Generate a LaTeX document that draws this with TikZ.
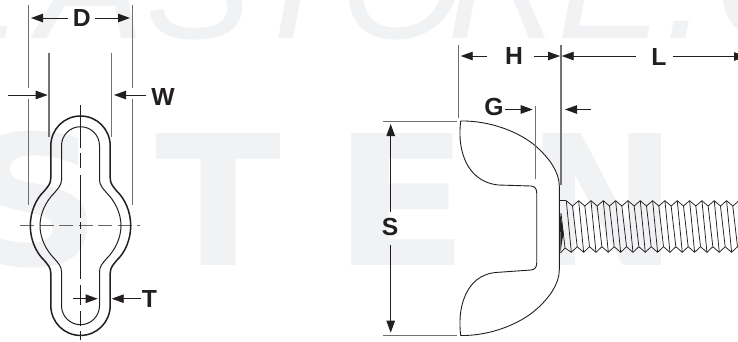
\documentclass[tikz,border=0pt]{standalone}
\usepackage{fontspec}
\setmainfont{Liberation Sans}
\newfontfamily\wmheavy{DejaVu Sans}
\usetikzlibrary{arrows.meta}
\definecolor{ink}{HTML}{231F20}
\definecolor{wm}{HTML}{F1F2F4}
\definecolor{extgrey}{HTML}{6E6E6E}
\tikzset{
  x=1pt,y=-1pt,
  label/.style={inner sep=0pt,text=ink,font=\fontsize{24.7}{26}\selectfont\bfseries},
  wmbig/.style={inner sep=0pt,anchor=base west,text=wm,font=\fontsize{181}{181}\selectfont\wmheavy\bfseries},
  wmthin/.style={inner sep=0pt,anchor=base west,text=wm,font=\fontsize{160}{160}\selectfont\itshape},
  dimarrow/.style={draw=ink,line width=0.9pt,-{Triangle[length=12pt,width=8.5pt]}},
  extline/.style={draw=extgrey,line width=0.9pt},
  extgreyline/.style={draw=black!55,line width=1.1pt},
  centreline/.style={draw=ink,line width=0.8pt},
  dashline/.style={draw=black!60,line width=1.1pt,dash pattern=on 14pt off 5.5pt},
  outerloop/.style={draw=ink,line width=1.5pt},
  innerloop/.style={draw=ink,line width=1pt},
  nutline/.style={draw=ink,line width=0.9pt},
  threadline/.style={draw=ink,line width=0.75pt,line join=round}
}
\begin{document}
\begin{tikzpicture}
\useasboundingbox (0,0) rectangle (738,341);
\clip (0,0) rectangle (738,341);
\fill[white] (0,0) rectangle (738,341);
% watermark, large letters
\node[wmbig,xscale=1.05] (wmS) at (-36,265.5) {S};
\node[wmbig,xscale=1.02] (wmT) at (155,265.5) {T};
\node[wmbig,xscale=1.1] (wmE) at (333,265.5) {E};
\node[wmbig,xscale=1] (wmN) at (526,265.5) {N};
\node[wmbig,xscale=1.1] (wmE2) at (721,265.5) {E};
% watermark, thin letters
\node[wmthin] (wa) at (-85,38.5) {E};
\node[wmthin] (wb) at (38,38.5) {A};
\node[wmthin] (wc) at (145,38.5) {S};
\node[wmthin] (wd) at (245,38.5) {T};
\node[wmthin] (we) at (340,38.5) {O};
\node[wmthin] (wf) at (447,38.5) {R};
\node[wmthin] (wg) at (557,38.5) {E};
\node[wmthin] (wh) at (664,38.5) {.};
\node[wmthin] (wi) at (714,38.5) {C};
% left view: centre lines
\draw[dashline] (20,225.7) -- (140,225.7);
\foreach \a/\b in {105/148,153/168,175/218,222/229,234/279,285/305,311/326,331/340}
  \draw[centreline] (80.3,\a) -- (80.3,\b);
% left view: loops
\begin{scope}[shift={(80.5,225.7)}]
\draw[outerloop] (0,-109.7) .. controls (16.6,-109.7) and (29.7,-96.3) .. (29.7,-79.7) -- (29.7,-47.7)
  .. controls (29.7,-41.7) and (32.7,-39.2) .. (36.2,-34.7)
  .. controls (44.7,-26.7) and (50.2,-13.7) .. (50.2,0)
  .. controls (50.2,13.7) and (44.7,26.7) .. (36.2,34.7)
  .. controls (32.7,39.2) and (29.7,41.7) .. (29.7,47.7) -- (29.7,79.7)
  .. controls (29.7,96.3) and (16.6,109.7) .. (0,109.7)
  .. controls (-16.6,109.7) and (-29.7,96.3) .. (-29.7,79.7) -- (-29.7,47.7)
  .. controls (-29.7,41.7) and (-32.7,39.2) .. (-36.2,34.7)
  .. controls (-44.7,26.7) and (-50.2,13.7) .. (-50.2,0)
  .. controls (-50.2,-13.7) and (-44.7,-26.7) .. (-36.2,-34.7)
  .. controls (-32.7,-39.2) and (-29.7,-41.7) .. (-29.7,-47.7) -- (-29.7,-79.7)
  .. controls (-29.7,-96.3) and (-16.6,-109.7) .. (0,-109.7) -- cycle;
\draw[innerloop] (0,-99) .. controls (10.5,-99) and (19,-90.5) .. (19,-80) -- (19,-46)
  .. controls (19,-41) and (22,-37.5) .. (26,-33)
  .. controls (34,-25) and (40.5,-13) .. (40.5,0)
  .. controls (40.5,13) and (34,25) .. (26,33)
  .. controls (22,37.5) and (19,41) .. (19,46) -- (19,80)
  .. controls (19,90.5) and (10.5,99) .. (0,99)
  .. controls (-10.5,99) and (-19,90.5) .. (-19,80) -- (-19,46)
  .. controls (-19,41) and (-22,37.5) .. (-26,33)
  .. controls (-34,25) and (-40.5,13) .. (-40.5,0)
  .. controls (-40.5,-13) and (-34,-25) .. (-26,-33)
  .. controls (-22,-37.5) and (-19,-41) .. (-19,-46) -- (-19,-80)
  .. controls (-19,-90.5) and (-10.5,-99) .. (0,-99) -- cycle;
\end{scope}
% left view: extension lines
\draw[extline] (28,5) -- (28,87.5) (28,99) -- (28,205);
\draw[extline] (132.7,5) -- (132.7,87.5) (132.7,99) -- (132.7,205);
\draw[extgreyline] (49,52.7) -- (49,136.7);
\draw[extgreyline] (111.7,52.7) -- (111.7,136.7);
% labels
\node[label] (D) at (81.7,18) {D};
\node[label] (W) at (163,96.5) {W};
\node[label] (T) at (149.5,299) {T};
\node[label] (H) at (514,56) {H};
\node[label] (G) at (494,107) {G};
\node[label] (L) at (659,56.5) {L};
\node[label] (S) at (390,227) {S};
% left view: dimension arrows
\coordinate (dL) at (31,18); \coordinate (dR) at (130,18);
\draw[dimarrow] (D.west)+(-5,0) -- (dL);
\draw[dimarrow] (D.east)+(4.5,0) -- (dR);
\coordinate (wA) at (8,95); \coordinate (wB) at (47.7,95); \coordinate (wC) at (114,95);
\draw[dimarrow] (wA) -- (wB);
\draw[dimarrow] (W.west)+(-5,-1.5) -- (wC);
\coordinate (tA) at (73,298.7); \coordinate (tB) at (97.7,298.7); \coordinate (tC) at (111.7,298.7);
\draw[dimarrow] (tA) -- (tB);
\draw[dimarrow] (T.west)+(-1,-0.3) -- (tC);
% bolt
\draw[threadline] (560,200.7) -- (566.3,200.7);
\draw[threadline] (560.5,253) -- (565,248) -- (571.3,252.3);
\draw[threadline] (561,213) -- (565,248);
\foreach \k in {0,...,14} {
  \pgfmathsetmacro{\p}{566.3+12.33*\k}
  \draw[threadline] (\p,200.7) -- (\p+6.2,206) -- (\p+12.33,200.7);
  \draw[threadline] (\p+5,252.3) -- (\p+10.9,246.7) -- (\p+17.33,252.3);
  \draw[threadline] (\p,200.7) -- (\p+5,252.3);
  \draw[threadline] (\p+6.2,206) -- (\p+10.9,246.7);
}
\fill[ink] (560,213) -- (563.5,233) -- (560.5,252) -- cycle;
% wing nut
\draw[nutline,fill=white,line join=round] (460.7,121) .. controls (490,120.5) and (520,132) .. (536.7,147)
  .. controls (549,158) and (559.3,172) .. (559.3,186) -- (559.3,270)
  .. controls (559.3,284) and (549,298) .. (536.7,309)
  .. controls (520,324) and (490,336) .. (460.7,335.5)
  .. controls (459.5,325) and (459,310) .. (465,296)
  .. controls (470,284) and (480,273) .. (498.3,272.3)
  -- (531,270) .. controls (535,269.5) and (536.7,267) .. (536.7,263)
  -- (536.7,193) .. controls (536.7,188.5) and (535,186.5) .. (531,186)
  -- (498.3,185) .. controls (480,183) and (470,172) .. (465,160)
  .. controls (459,146) and (459.5,131) .. (460.7,121) -- cycle;
% right view: extension lines
\draw[extline] (458.3,45) -- (458.3,118);
\draw[extgreyline] (561,45) -- (561,185);
\draw[extgreyline] (535.7,106) -- (535.7,179);
\draw[extline] (383.3,121.7) -- (456.7,121.7);
\draw[extline] (383.3,335.7) -- (456.7,335.7);
% right view: dimension arrows
\coordinate (hL) at (460.7,56); \coordinate (hR) at (560,56); \coordinate (hS) at (487,56); \coordinate (hE) at (534,56);
\draw[dimarrow] (hS) -- (hL);
\draw[dimarrow] (hE) -- (hR);
\coordinate (lL) at (561.7,56); \coordinate (lS) at (635.7,56);
\draw[dimarrow] (lS) -- (lL);
\coordinate (lR) at (746,56.5);
\draw[dimarrow] (L.east)+(6,0) -- (lR);
\coordinate (gB) at (532.7,109.5); \coordinate (gS) at (591,109.5); \coordinate (gC) at (565,109.5);
\draw[dimarrow] (G.east)+(1,2.5) -- (gB);
\draw[dimarrow] (gS) -- (gC);
\coordinate (sT) at (390.7,124); \coordinate (sB) at (390.7,332.7);
\draw[dimarrow] (S.north)+(0.7,-6) -- (sT);
\draw[dimarrow] (S.south)+(0.7,9) -- (sB);
\end{tikzpicture}
\end{document}
